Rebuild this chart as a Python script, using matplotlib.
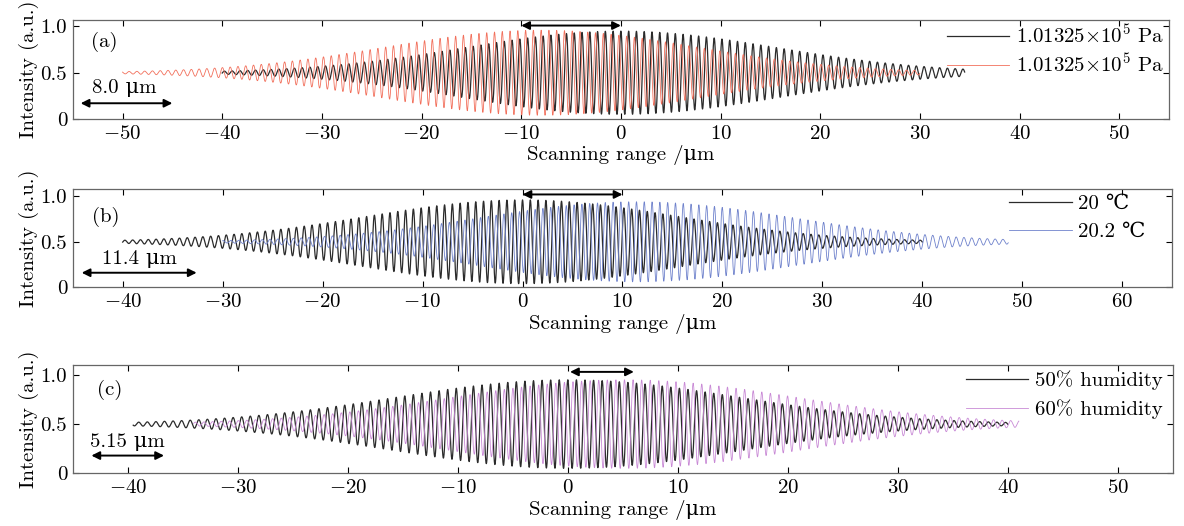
import matplotlib
matplotlib.use("Agg")
import matplotlib.pyplot as plt
import numpy as np

plt.rcParams['font.family'] = ['cmr10', 'DejaVu Serif', 'Noto Sans CJK SC']
plt.rcParams['mathtext.fontset'] = 'cm'
plt.rcParams['font.size'] = 15
plt.rcParams['axes.formatter.use_mathtext'] = True

# fringe packets: (start, end, centre, peak amplitude)
# intensity = 0.5 + amp * exp(-((x - centre) / width)^2) * cos(2 pi (x - centre) / period)
fringe_period = 0.78   # um
envelope_width = 22.0  # um

labels_a = ['1.01325×10$^5$ Pa', '1.01325×10$^5$ Pa']
packets_a = [(-40.0, 34.5, 0.0, 0.45), (-50.0, 30.0, -8.0, 0.46)]
colors_a = ['#2b2b2b', '#f2705c']

labels_b = ['20 ℃', '20.2 ℃']
packets_b = [(-40.0, 40.0, 0.0, 0.46), (-30.0, 48.6, 11.4, 0.44)]
colors_b = ['#2b2b2b', '#6f82cc']

labels_c = ['50% humidity', '60% humidity']
packets_c = [(-39.5, 40.0, 0.0, 0.45), (-34.0, 41.0, 5.15, 0.45)]
colors_c = ['#2b2b2b', '#c98ad6']

xlims = [(-55, 55), (-45, 65), (-45, 55)]
ylims = [(0, 1.07), (0, 1.08), (0, 1.10)]
xticks = [np.arange(-50, 51, 10), np.arange(-40, 61, 10), np.arange(-40, 51, 10)]
panel_tags = ['(a)', '(b)', '(c)']
tag_pos = [(-51.8, 0.83), (-41.7, 0.77), (-41.6, 0.85)]
shift_text = ['8.0 μm', '11.4 μm', '5.15 μm']
shift_arrow = [(-54.2, -45.0, 0.17), (-44.1, -32.6, 0.16), (-43.3, -36.7, 0.18)]
shift_text_pos = [(-49.8, 0.34), (-38.3, 0.31), (-40.0, 0.32)]
top_arrow = [(-10.0, 0.0, 1.01), (0.0, 10.0, 1.02), (0.2, 6.0, 1.03)]
legend_anchor = [(1.003, 1.04), (0.983, 1.03), (0.998, 1.03)]
legend_spacing = [0.25, 0.45, 0.45]

axes_rects = [
    [0.0614, 0.7738, 0.9260, 0.1882],
    [0.0614, 0.4538, 0.9287, 0.1869],
    [0.0614, 0.1002, 0.9293, 0.2059],
]


def fringe(start, end, centre, amp):
    x = np.arange(start, end, 0.01)
    d = x - centre
    y = 0.5 + amp * np.exp(-(d / envelope_width) ** 2) * np.cos(2 * np.pi * d / fringe_period)
    return x, y


def main():
    fig = plt.figure(figsize=(11.84, 5.26), dpi=100)
    all_packets = [packets_a, packets_b, packets_c]
    all_colors = [colors_a, colors_b, colors_c]
    all_labels = [labels_a, labels_b, labels_c]
    for i in range(3):
        ax = fig.add_axes(axes_rects[i])
        for (s, e, c, a), col, lab in zip(all_packets[i], all_colors[i], all_labels[i]):
            x, y = fringe(s, e, c, a)
            lw = 0.9 if col == '#2b2b2b' else 0.6
            ax.plot(x, y, color=col, lw=lw, label=lab)
        ax.set_xlim(*xlims[i])
        ax.set_ylim(*ylims[i])
        ax.set_xticks(xticks[i])
        ax.set_yticks([0, 0.5, 1.0])
        ax.set_yticklabels(['0', '0.5', '1.0'])
        ax.tick_params(direction='in', top=True, right=True, length=4, pad=4)
        for sp in ax.spines.values():
            sp.set_color('#666666')
            sp.set_linewidth(0.9)
        ax.set_xlabel('Scanning range /μm', labelpad=2)
        ax.set_ylabel('Intensity (a.u.)', labelpad=1)
        ax.text(tag_pos[i][0], tag_pos[i][1], panel_tags[i], ha='center', va='center')

        x0, x1, yy = shift_arrow[i]
        ax.annotate('', xy=(x1, yy), xytext=(x0, yy),
                    arrowprops=dict(arrowstyle='<|-|>', color='black', lw=1.4,
                                    mutation_scale=12, shrinkA=0, shrinkB=0))
        ax.text(shift_text_pos[i][0], shift_text_pos[i][1], shift_text[i],
                ha='center', va='center')
        x0, x1, yy = top_arrow[i]
        ax.annotate('', xy=(x1, yy), xytext=(x0, yy),
                    arrowprops=dict(arrowstyle='<|-|>', color='black', lw=1.4,
                                    mutation_scale=12, shrinkA=0, shrinkB=0),
                    annotation_clip=False)

        ax.legend(loc='upper right', bbox_to_anchor=legend_anchor[i], frameon=False,
                  handlelength=3.0, handletextpad=0.3, labelspacing=legend_spacing[i],
                  borderaxespad=0.0)

    fig.savefig('out.png', dpi=100)


if __name__ == '__main__':
    main()
